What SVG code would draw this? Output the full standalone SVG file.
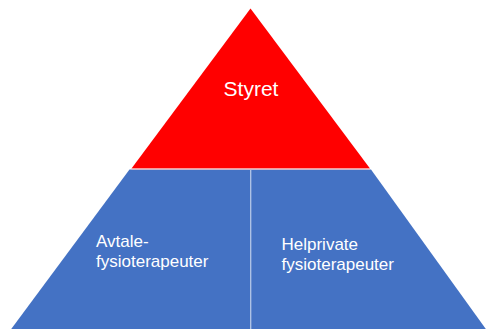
<svg xmlns="http://www.w3.org/2000/svg" width="486" height="329" viewBox="0 0 486 329">
<style>
.t{font-family:"Liberation Sans",Arial,sans-serif;fill:#ffffff}
</style>
<rect width="486" height="329" fill="#ffffff"/>
<g id="styret">
<polygon points="250.5,8.5 131.5,168.5 370,168.5" fill="#ff0000"/>
<text class="t" x="251" y="96" font-size="21" text-anchor="middle">Styret</text>
</g>
<g id="base">
<polygon points="129.5,169.5 371,169.5 488,332 9,332" fill="#4472c4"/>
</g>
<g id="connectors">
<line x1="131.5" y1="169" x2="370" y2="169" stroke="#f4b4b4" stroke-width="1"/>
<line x1="250.7" y1="170" x2="250.7" y2="329" stroke="#b4c7e7" stroke-width="1.3"/>
</g>
<g id="avtale">
<text class="t" x="96" y="246.7" font-size="17">Avtale-</text>
<text class="t" x="96" y="266.7" font-size="17">fysioterapeuter</text>
</g>
<g id="helprivate">
<text class="t" x="281.5" y="250" font-size="17">Helprivate</text>
<text class="t" x="281.5" y="270" font-size="17">fysioterapeuter</text>
</g>
</svg>
